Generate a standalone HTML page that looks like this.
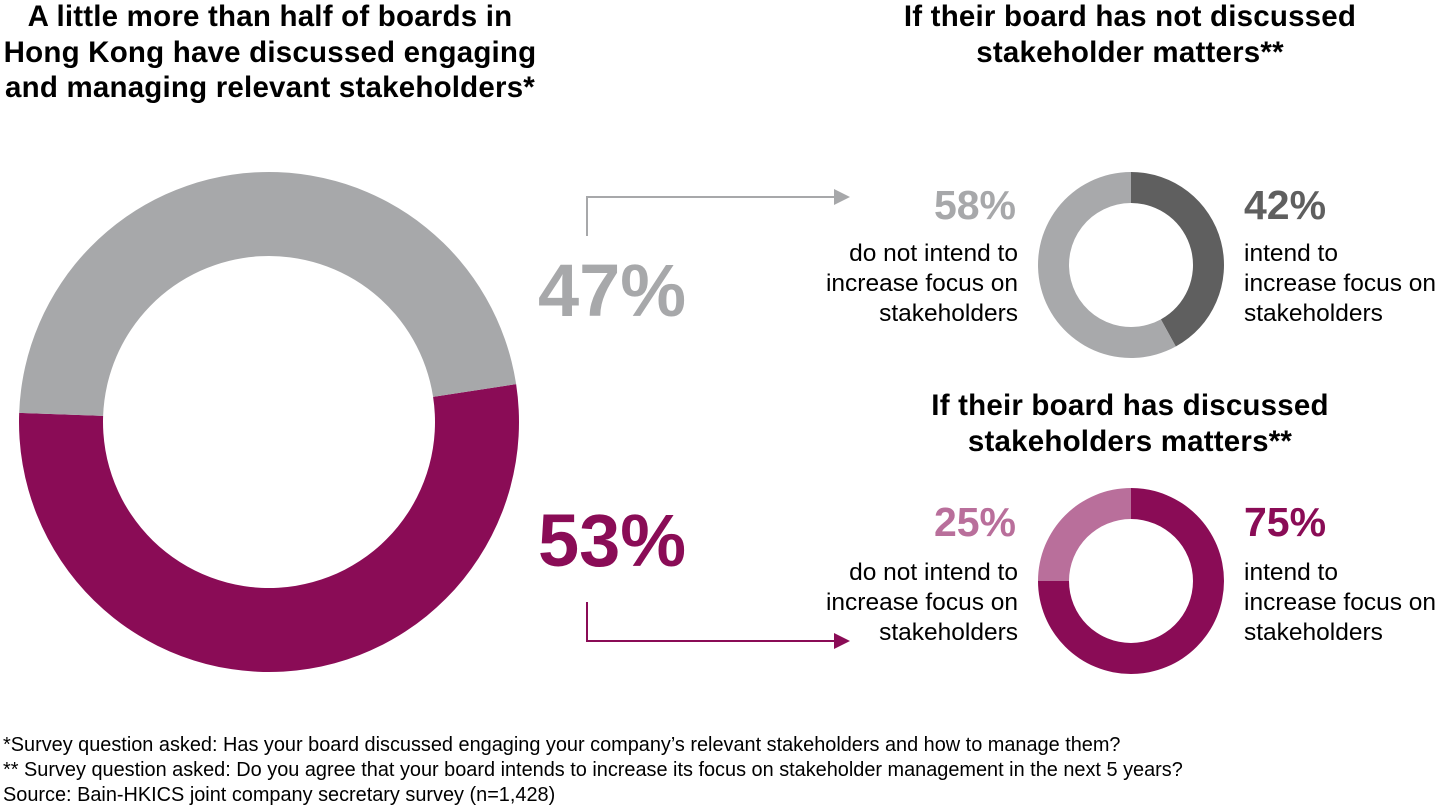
<!DOCTYPE html>
<html><head><meta charset="utf-8"><style>
body{margin:0;width:1440px;height:810px;background:#fff;font-family:"Liberation Sans",Arial,sans-serif;position:relative;overflow:hidden;color:#000}
.t{position:absolute;font-weight:bold;font-size:29.5px;line-height:35.5px;text-align:center;letter-spacing:0.2px}
.p{position:absolute;font-weight:bold;font-size:41px;line-height:42px}
.l{position:absolute;font-size:24.5px;line-height:30px}
.f{position:absolute;left:3px;font-size:19.9px;line-height:25px;white-space:nowrap}
</style></head><body>
<div class="t" style="left:-10px;top:-1px;width:560px">A little more than half of boards in<br>Hong Kong have discussed engaging<br>and managing relevant stakeholders*</div>
<div class="t" style="left:870px;top:-1px;width:520px">If their board has not discussed<br>stakeholder matters**</div>
<div class="t" style="left:870px;top:388px;width:520px">If their board has discussed<br>stakeholders matters**</div>

<svg id="chart" width="1440" height="810" style="position:absolute;left:0;top:0">
<g id="g"></g>
<polyline points="587,236 587,197 836,197" fill="none" stroke="#a7a8aa" stroke-width="2"/>
<polygon points="850,197 834,189 834,205" fill="#a7a8aa"/>
<polyline points="587,602 587,641 836,641" fill="none" stroke="#8a0c56" stroke-width="2"/>
<polygon points="850,641 834,633 834,649" fill="#8a0c56"/>
<text x="538" y="316" font-family="Liberation Sans, Arial, sans-serif" font-weight="bold" font-size="74" fill="#a7a8aa">47%</text>
<text x="538" y="566" font-family="Liberation Sans, Arial, sans-serif" font-weight="bold" font-size="74" fill="#8a0c56">53%</text>
</svg>

<div class="p" style="right:424px;top:184px;color:#a7a8aa">58%</div>
<div class="l" style="right:422px;top:239px;text-align:right">do not intend to<br>increase focus on<br>stakeholders</div>
<div class="p" style="left:1244px;top:184px;color:#5f5f5f">42%</div>
<div class="l" style="left:1244px;top:239px">intend to<br>increase focus on<br>stakeholders</div>
<div class="p" style="right:424px;top:501px;color:#b96f9b">25%</div>
<div class="l" style="right:422px;top:558px;text-align:right">do not intend to<br>increase focus on<br>stakeholders</div>
<div class="p" style="left:1244px;top:501px;color:#8a0c56">75%</div>
<div class="l" style="left:1244px;top:558px">intend to<br>increase focus on<br>stakeholders</div>

<div class="f" style="top:733px">*Survey question asked: Has your board discussed engaging your company’s relevant stakeholders and how to manage them?</div>
<div class="f" style="top:758px">** Survey question asked: Do you agree that your board intends to increase its focus on stakeholder management in the next 5 years?</div>
<div class="f" style="top:783px">Source: Bain-HKICS joint company secretary survey (n=1,428)</div>

<script>
const mainValues=[53,47];
const mainColors=['#8a0c56','#a7a8aa'];
const notDiscussedValues=[42,58];
const notDiscussedColors=['#5f5f5f','#a8a9ab'];
const discussedValues=[75,25];
const discussedColors=['#8a0c56','#b96f9b'];
const g=document.getElementById('g');
function arc(cx,cy,ro,ri,a0,a1){
  const r=d=>(d-90)*Math.PI/180;
  const p=(R,a)=>[cx+R*Math.cos(r(a)),cy+R*Math.sin(r(a))];
  const L=(a1-a0)>180?1:0;
  const [x1,y1]=p(ro,a0),[x2,y2]=p(ro,a1),[x3,y3]=p(ri,a1),[x4,y4]=p(ri,a0);
  return `M${x1},${y1}A${ro},${ro} 0 ${L} 1 ${x2},${y2}L${x3},${y3}A${ri},${ri} 0 ${L} 0 ${x4},${y4}Z`;
}
function donut(vals,cols,cx,cy,ro,ri,start,name){
  const tot=vals.reduce((a,b)=>a+b,0);let a=start;
  vals.forEach((v,i)=>{
    const s=v/tot*360;
    const el=document.createElementNS('http://www.w3.org/2000/svg','path');
    el.setAttribute('d',arc(cx,cy,ro,ri,a,a+s));
    el.setAttribute('fill',cols[i]);
    
    
    g.appendChild(el);a+=s;
  });
}
donut(mainValues,mainColors,269,422,250,166,81.3,'main-donut');
donut(notDiscussedValues,notDiscussedColors,1131,265,93,62,0,'not-discussed-donut');
donut(discussedValues,discussedColors,1131,581,93,62,0,'discussed-donut');
</script>
</body></html>
